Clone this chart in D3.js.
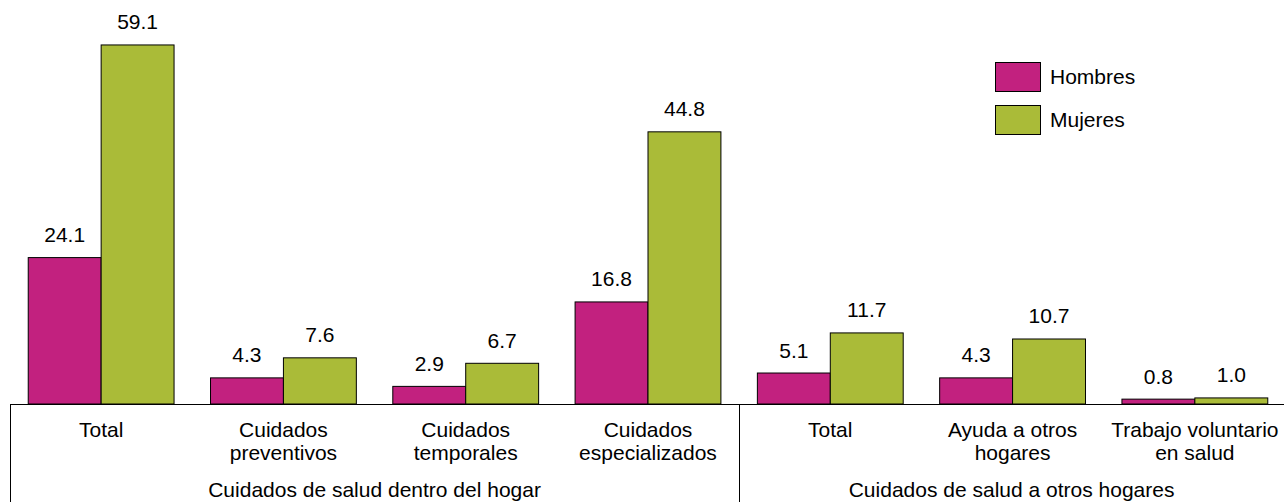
<!DOCTYPE html>
<html><head><meta charset="utf-8">
<script src="https://cdn.jsdelivr.net/npm/d3@7"></script>
<style>body{margin:0;background:#fff}svg{display:block;font-family:"Liberation Sans",Arial,sans-serif}</style>
</head><body><svg id="c" width="1284" height="502"></svg>
<script>
const categories = [["Total"],["Cuidados","preventivos"],["Cuidados","temporales"],["Cuidados","especializados"],["Total"],["Ayuda a otros","hogares"],["Trabajo voluntario","en salud"]];
const series = ["Hombres","Mujeres"];
const hombres = [24.1,4.3,2.9,16.8,5.1,4.3,0.8];
const mujeres = [59.1,7.6,6.7,44.8,11.7,10.7,1.0];
const groups = [{label:"Cuidados de salud dentro del hogar",from:0,to:3},{label:"Cuidados de salud a otros hogares",from:4,to:6}];
const colors = ["#C2217F","#AABB38"];

const svg = d3.select("#c");
const base = 404;
const fs = 21;
const x = d3.scaleBand().domain(d3.range(categories.length)).range([10,1286]).paddingInner(0.2).paddingOuter(0.1);
const xs = d3.scaleBand().domain(series).range([0,x.bandwidth()]);
const y = d3.scaleLinear().domain([0,66.5]).range([base,0]);
const vals = [hombres,mujeres];

series.forEach((s,si)=>{
  const g = svg.append("g");
  g.selectAll("rect").data(vals[si]).join("rect")
    .attr("x",(d,i)=>x(i)+xs(s)).attr("y",d=>y(d))
    .attr("width",xs.bandwidth()).attr("height",d=>base-y(d))
    .attr("fill",colors[si]).attr("stroke","#000").attr("stroke-width",1);
  g.selectAll("text").data(vals[si]).join("text")
    .attr("x",(d,i)=>x(i)+xs(s)+xs.bandwidth()/2).attr("y",d=>y(d)-15.5)
    .attr("text-anchor","middle").attr("font-size",fs).attr("fill","#000")
    .text(d=>d.toFixed(1));
});

// axis lines
svg.append("line").attr("x1",10).attr("x2",1284).attr("y1",base+0.5).attr("y2",base+0.5).attr("stroke","#000");
const seps = [10, x(4)-x.step()*x.paddingInner()/2];
seps.forEach(sx=>svg.append("line").attr("x1",Math.round(sx)+0.5).attr("x2",Math.round(sx)+0.5).attr("y1",base).attr("y2",502).attr("stroke","#000"));

// category labels
categories.forEach((lines,i)=>{
  const t = svg.append("text").attr("x",x(i)+x.bandwidth()/2).attr("y",436.5).attr("text-anchor","middle").attr("font-size",fs);
  lines.forEach((l,j)=>t.append("tspan").attr("x",x(i)+x.bandwidth()/2).attr("dy",j?23.5:0).text(l));
});
// group labels
const gx = [[10,seps[1]],[seps[1],1284]];
groups.forEach((g,i)=>{
  svg.append("text").attr("x",(gx[i][0]+gx[i][1])/2).attr("y",497).attr("text-anchor","middle").attr("font-size",fs).text(g.label);
});

// legend
series.forEach((s,i)=>{
  svg.append("rect").attr("x",995.5).attr("y",62.5+i*43).attr("width",45).attr("height",29).attr("fill",colors[i]).attr("stroke","#000");
  svg.append("text").attr("x",1050).attr("y",83.5+i*43).attr("font-size",fs).text(s);
});
</script></body></html>
